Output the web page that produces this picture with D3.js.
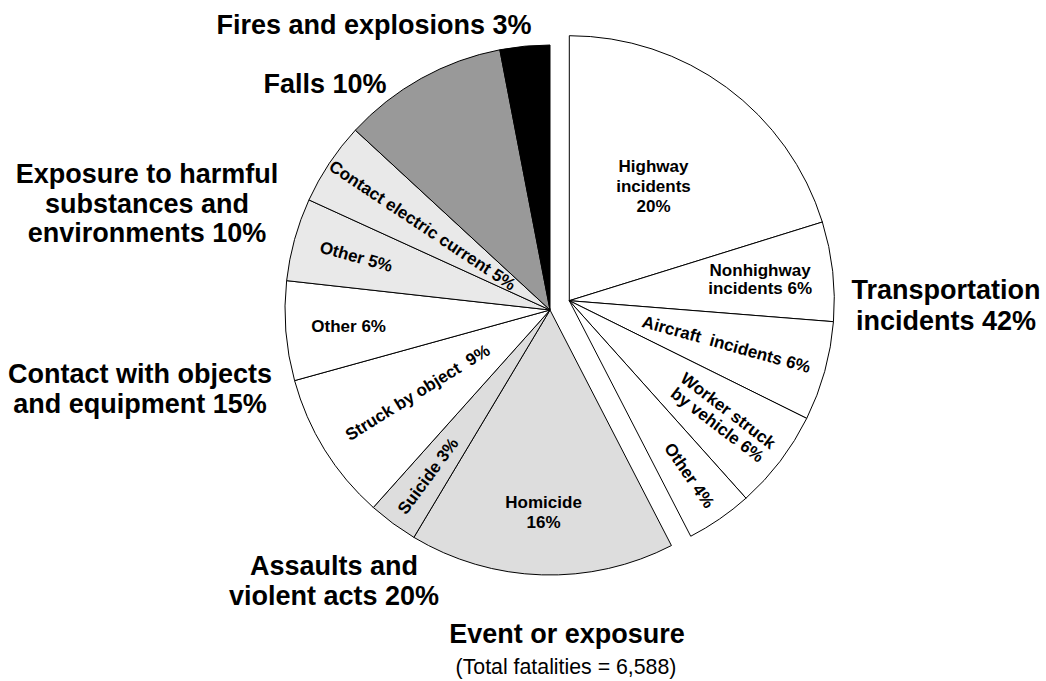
<!DOCTYPE html>
<html>
<head>
<meta charset="utf-8">
<script src="https://cdnjs.cloudflare.com/ajax/libs/d3/7.8.5/d3.min.js"></script>
<style>
body { margin: 0; background: #fff; }
text { font-family: "Liberation Sans", Arial, sans-serif; fill: #000; }
</style>
</head>
<body>
<svg id="chart" width="1046" height="681"></svg>
<script>
// slices, clockwise from 12 o'clock
var sliceValues = [20, 6, 6, 6, 4, 16, 3, 9, 6, 5, 5, 10, 3];
var sliceGroup = ["trans", "trans", "trans", "trans", "trans", "assault", "assault",
    "contact", "contact", "expo", "expo", "falls", "fires"];
var sliceLabels = [
    ["Highway", "incidents", "20%"],
    ["Nonhighway", "incidents 6%"],
    ["Aircraft  incidents 6%"],
    ["Worker struck", "by vehicle 6%"],
    ["Other 4%"],
    ["Homicide", "16%"],
    ["Suicide 3%"],
    ["Struck by object  9%"],
    ["Other 6%"],
    ["Other 5%"],
    ["Contact electric current 5%"],
    [],
    []
];

// event groups
var groupKeys = ["trans", "assault", "contact", "expo", "falls", "fires"];
var groupLabels = [
    ["Transportation", "incidents 42%"],
    ["Assaults and", "violent acts 20%"],
    ["Contact with objects", "and equipment 15%"],
    ["Exposure to harmful", "substances and", "environments 10%"],
    ["Falls 10%"],
    ["Fires and explosions 3%"]
];
var groupFills = ["#ffffff", "#dddddd", "#ffffff", "#e9e9e9", "#999999", "#000000"];

var titleText = "Event or exposure";
var subtitleText = "(Total fatalities = 6,588)";

// layout
var cx = 550, cy = 310, radius = 265;
var explode = [19.3, -9.3];
// inner label radius, line height and whether text runs along the radius
var labelR = [142, 192, 163, 193, 212, 202, 206, 156, 202, 201, 153, 0, 0];
var labelLh = [20, 18, 18, 18, 18, 20, 18, 18, 18, 18, 18, 18, 18];
var labelRot = [0, 0, 1, 1, 1, 0, 1, 1, 0, 1, 1, 0, 0];
// big group labels: centre x, first baseline, line height
var groupPos = {
    trans: [946, 299, 31],
    assault: [334, 575, 30],
    contact: [140, 383, 30],
    expo: [147, 183, 29.5],
    falls: [325, 93, 30],
    fires: [374, 34, 30]
};

var svg = d3.select("#chart");
svg.append("rect").attr("width", 1046).attr("height", 681).attr("fill", "#fff");

var fill = d3.scaleOrdinal().domain(groupKeys).range(groupFills);

var pie = d3.pie().sort(null).value(function (d) { return d; });
var arcs = pie(sliceValues);
var arc = d3.arc().innerRadius(0).outerRadius(radius);

var g = svg.append("g").attr("transform", "translate(" + cx + "," + cy + ")");

var slices = g.selectAll("g.slice")
    .data(arcs)
    .enter()
    .append("g")
    .attr("class", "slice")
    .attr("transform", function (d, i) {
        return sliceGroup[i] === "trans" ? "translate(" + explode[0] + "," + explode[1] + ")" : null;
    });

slices.append("path")
    .attr("d", arc)
    .attr("fill", function (d, i) { return fill(sliceGroup[i]); })
    .attr("stroke", "#000")
    .attr("stroke-width", 1)
    .attr("stroke-linejoin", "round");

slices.each(function (d, i) {
    var lines = sliceLabels[i];
    if (!lines.length) return;
    var mid = (d.startAngle + d.endAngle) / 2;
    var r = labelR[i];
    var x = r * Math.sin(mid), y = -r * Math.cos(mid);
    var deg = mid * 180 / Math.PI;
    var rot = 0;
    if (labelRot[i]) rot = deg < 180 ? deg - 90 : deg - 270;
    var lh = labelLh[i];
    var t = d3.select(this).append("text")
        .attr("transform", "translate(" + x + "," + y + ") rotate(" + rot + ")")
        .attr("text-anchor", "middle")
        .attr("font-size", 17)
        .attr("font-weight", "bold")
        .style("white-space", "pre");
    lines.forEach(function (ln, k) {
        t.append("tspan")
            .attr("x", 0)
            .attr("y", (k - (lines.length - 1) / 2) * lh)
            .attr("dy", "0.35em")
            .text(ln);
    });
});

// group labels
groupKeys.forEach(function (k, i) {
    var p = groupPos[k];
    var t = svg.append("text")
        .attr("text-anchor", "middle")
        .attr("font-size", 27)
        .attr("font-weight", "bold");
    groupLabels[i].forEach(function (ln, j) {
        t.append("tspan")
            .attr("x", p[0])
            .attr("y", p[1] + j * p[2])
            .text(ln);
    });
});

svg.append("text")
    .attr("x", 567).attr("y", 643)
    .attr("text-anchor", "middle")
    .attr("font-size", 27)
    .attr("font-weight", "bold")
    .text(titleText);

svg.append("text")
    .attr("x", 566).attr("y", 674)
    .attr("text-anchor", "middle")
    .attr("font-size", 21.3)
    .text(subtitleText);
</script>
</body>
</html>
